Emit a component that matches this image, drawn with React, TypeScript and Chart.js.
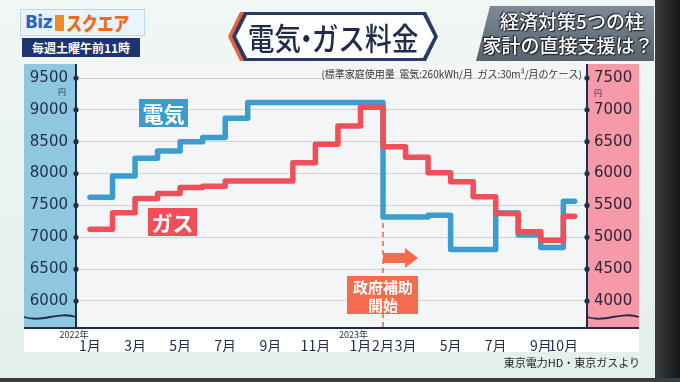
import React, { useEffect, useRef } from 'react';
import { Chart, registerables } from 'chart.js';

Chart.register(...registerables);

// ---- data (Jan 2022 .. Oct 2023, monthly, yen) ----
const months = [
  '2022-01', '2022-02', '2022-03', '2022-04', '2022-05', '2022-06', '2022-07', '2022-08', '2022-09', '2022-10', '2022-11', '2022-12',
  '2023-01', '2023-02', '2023-03', '2023-04', '2023-05', '2023-06', '2023-07', '2023-08', '2023-09', '2023-10',
];
const electricity = [7630, 7960, 8240, 8355, 8500, 8565, 8870, 9115, 9115, 9115, 9115, 9115, 9115, 7320, 7320, 7346, 6810, 6810, 7380, 7035, 6840, 7565];
const gas = [5126, 5386, 5609, 5688, 5783, 5803, 5882, 5882, 5882, 6170, 6460, 6748, 7043, 6422, 6255, 6013, 5871, 5635, 5373, 5087, 4953, 5331];

const leftTicks = [6000, 6500, 7000, 7500, 8000, 8500, 9000, 9500];
const rightTicks = [4000, 4500, 5000, 5500, 6000, 6500, 7000, 7500];
const xTickMonths = [0, 2, 4, 6, 8, 10, 12, 13, 14, 16, 18, 20, 21];
const xTickLabels = ['1月', '3月', '5月', '7月', '9月', '11月', '1月', '2月', '3月', '5月', '7月', '9月', '10月'];
const yearMonths = [0, 12];
const yearTexts = ['2022年', '2023年'];
const subsidyMonth = 13;

const BLUE = '#3b9dcd';
const RED = '#f04e59';
const NAVY = '#1f2d4c';
const JP = '"Noto Sans CJK JP", "Noto Sans", sans-serif';

function toSeries(values: number[]) {
  const pts = values.map((v, i) => ({ x: i, y: v }));
  pts.push({ x: values.length - 1 + 0.5, y: values[values.length - 1] });
  return pts;
}

function wave(ctx: CanvasRenderingContext2D, left: number, right: number, y: number) {
  const w = right - left;
  ctx.beginPath();
  ctx.moveTo(left, y);
  ctx.bezierCurveTo(left + w / 3, y + 6, left + (2 * w) / 3, y - 6, right, y);
  ctx.stroke();
}

const decor = {
  id: 'decor',
  beforeDraw(chart: any) {
    const { ctx, chartArea: a, scales } = chart;
    const yl = scales.yL;
    const yr = scales.yR;
    ctx.save();
    ctx.fillStyle = '#f4f5f6';
    ctx.fillRect(a.left, a.top, a.right - a.left, a.bottom - a.top);
    ctx.fillStyle = '#8fc6e0';
    ctx.fillRect(yl.left, a.top, yl.right - yl.left, a.bottom - a.top);
    ctx.fillStyle = '#f59aa6';
    ctx.fillRect(yr.left, a.top, yr.right - yr.left, a.bottom - a.top);
    ctx.fillStyle = '#ffffff';
    ctx.fillRect(yl.left, a.bottom, yr.right - yl.left, scales.x.bottom - a.bottom);
    ctx.restore();
  },
  afterDatasetsDraw(chart: any) {
    const { ctx, chartArea: a, scales } = chart;
    const yl = scales.yL;
    const xs = scales.x.getPixelForValue(subsidyMonth);
    ctx.save();
    // dashed marker
    const yTop = yl.getPixelForValue(electricity[subsidyMonth]) + 6;
    ctx.strokeStyle = '#e0694f';
    ctx.lineWidth = 1.5;
    ctx.setLineDash([5, 4]);
    ctx.beginPath();
    ctx.moveTo(xs, yTop);
    ctx.lineTo(xs, a.bottom);
    ctx.stroke();
    ctx.setLineDash([]);
    // arrow
    ctx.fillStyle = '#f46c4d';
    const yA = 258;
    ctx.fillRect(xs, yA - 5, 23, 10);
    ctx.beginPath();
    ctx.moveTo(xs + 22, yA - 10);
    ctx.lineTo(xs + 35, yA);
    ctx.lineTo(xs + 22, yA + 10);
    ctx.closePath();
    ctx.fill();
    // box
    ctx.fillStyle = '#f46b4e';
    ctx.fillRect(xs - 36, 276, 71, 38);
    ctx.fillStyle = '#ffffff';
    ctx.font = `bold 15px ${JP}`;
    ctx.textAlign = 'center';
    ctx.textBaseline = 'middle';
    ctx.fillText('政府補助', xs, 287);
    ctx.fillText('開始', xs, 305);
    // series labels
    ctx.fillStyle = BLUE;
    ctx.fillRect(139, 99, 49, 28);
    ctx.fillStyle = RED;
    ctx.fillRect(148, 208, 49, 28);
    ctx.fillStyle = '#ffffff';
    ctx.font = `bold 21px ${JP}`;
    ctx.fillText('電気', 163.5, 114);
    ctx.fillText('ガス', 172.5, 223);
    ctx.restore();
  },
  afterDraw(chart: any) {
    const { ctx, chartArea: a, scales } = chart;
    const yl = scales.yL;
    const yr = scales.yR;
    ctx.save();
    ctx.strokeStyle = NAVY;
    ctx.lineWidth = 2;
    ctx.beginPath();
    ctx.moveTo(a.left, a.top);
    ctx.lineTo(a.left, a.bottom);
    ctx.moveTo(a.right, a.top);
    ctx.lineTo(a.right, a.bottom);
    ctx.moveTo(yl.left, a.bottom);
    ctx.lineTo(yr.right, a.bottom);
    ctx.stroke();
    ctx.fillStyle = NAVY;
    leftTicks.forEach((v) => {
      ctx.beginPath();
      ctx.arc(a.left, yl.getPixelForValue(v), 2.6, 0, Math.PI * 2);
      ctx.fill();
    });
    rightTicks.forEach((v) => {
      ctx.beginPath();
      ctx.arc(a.right, yr.getPixelForValue(v), 2.6, 0, Math.PI * 2);
      ctx.fill();
    });
    ctx.lineWidth = 1.8;
    wave(ctx, yl.left, yl.right, a.bottom - 11);
    wave(ctx, yr.left, yr.right, a.bottom - 11);
    // 円 units
    ctx.font = `8px ${JP}`;
    ctx.textAlign = 'center';
    ctx.textBaseline = 'middle';
    ctx.fillText('円', 62, yl.getPixelForValue(leftTicks[leftTicks.length - 1]) + 14);
    ctx.fillText('円', 598, yr.getPixelForValue(rightTicks[rightTicks.length - 1]) + 15);
    // year labels
    ctx.fillStyle = '#333333';
    ctx.font = `9px ${JP}`;
    const offs = [-16, -7];
    yearMonths.forEach((m, i) => {
      ctx.fillText(yearTexts[i], scales.x.getPixelForValue(m) + offs[i], a.bottom + 7);
    });
    // note
    ctx.fillStyle = '#333333';
    ctx.font = `10px ${JP}`;
    ctx.textAlign = 'right';
    ctx.fillText('(標準家庭使用量  電気:260kWh/月  ガス:30m³/月のケース)', a.right - 5, 74);
    ctx.restore();
  },
};

export default function App() {
  const ref = useRef<HTMLCanvasElement>(null);
  useEffect(() => {
    const canvas = ref.current;
    if (!canvas) return;
    const chart = new Chart(canvas, {
      type: 'line',
      data: {
        datasets: [
          {
            label: 'ガス',
            data: toSeries(gas),
            yAxisID: 'yR',
            xAxisID: 'x',
            borderColor: RED,
            borderWidth: 5.5,
            stepped: 'before',
            pointRadius: 0,
            fill: false,
            borderCapStyle: 'round',
            borderJoinStyle: 'round',
            order: 0,
          },
          {
            label: '電気',
            data: toSeries(electricity),
            yAxisID: 'yL',
            xAxisID: 'x',
            borderColor: BLUE,
            borderWidth: 5.5,
            stepped: 'before',
            pointRadius: 0,
            fill: false,
            borderCapStyle: 'round',
            borderJoinStyle: 'round',
            order: 1,
          },
        ],
      } as any,
      options: {
        responsive: false,
        animation: false,
        devicePixelRatio: 1,
        layout: { padding: { left: 24, right: 41, top: 64, bottom: 30 } },
        plugins: { legend: { display: false }, tooltip: { enabled: false } },
        scales: {
          x: {
            type: 'linear',
            min: -0.62,
            max: 22.05,
            afterBuildTicks: (s: any) => {
              s.ticks = xTickMonths.map((v) => ({ value: v }));
            },
            afterFit: (s: any) => {
              s.height = 24;
            },
            grid: { display: false, drawTicks: false },
            border: { display: false },
            ticks: {
              autoSkip: false,
              maxRotation: 0,
              padding: 9,
              color: NAVY,
              font: { family: JP, size: 14 },
              callback: (v: any) => {
                const i = xTickMonths.indexOf(Number(v));
                return i >= 0 ? xTickLabels[i] : '';
              },
            },
          },
          yL: {
            type: 'linear',
            position: 'left',
            min: 5576,
            max: 9720,
            afterBuildTicks: (s: any) => {
              s.ticks = leftTicks.map((v) => ({ value: v }));
            },
            afterFit: (s: any) => {
              s.width = 52;
            },
            grid: { color: '#d0d5da', lineWidth: 1, drawTicks: false },
            border: { display: false },
            ticks: { padding: 8, color: '#1f2f4f', font: { family: 'DejaVu Sans', size: 15 }, callback: (v: any) => String(v) },
          },
          yR: {
            type: 'linear',
            position: 'right',
            min: 3576,
            max: 7720,
            afterBuildTicks: (s: any) => {
              s.ticks = rightTicks.map((v) => ({ value: v }));
            },
            afterFit: (s: any) => {
              s.width = 52;
            },
            grid: { display: false, drawTicks: false },
            border: { display: false },
            ticks: { padding: 7, color: '#2e2639', font: { family: 'DejaVu Sans', size: 15 }, callback: (v: any) => String(v) },
          },
        },
      } as any,
      plugins: [decor],
    });
    return () => chart.destroy();
  }, []);

  return (
    <div
      style={{
        position: 'fixed',
        left: 0,
        top: 0,
        width: 680,
        height: 382,
        overflow: 'hidden',
        background: 'linear-gradient(180deg, #f1f7f5 0%, #e3efeb 100%)',
        fontFamily: JP,
      }}
    >
      <canvas ref={ref} width={680} height={382} style={{ position: 'absolute', left: 0, top: 0, width: 680, height: 382 }} />

      {/* logo */}
      <div
        style={{
          position: 'absolute', left: 20, top: 9, width: 125, height: 27, background: '#eaf4fb',
          border: '1px solid #bcd7ea', boxSizing: 'border-box', display: 'flex', alignItems: 'center', justifyContent: 'center',
          fontWeight: 900, fontSize: 19, lineHeight: '27px', letterSpacing: -0.5,
        }}
      >
        <span style={{ color: '#2766c8', fontFamily: '"DejaVu Sans", sans-serif', fontSize: 17 }}>Biz</span>
        <span style={{ display: 'inline-block', width: 9, height: 16, background: '#f08a22', margin: '0 2px 0 3px' }} />
        <span style={{ color: '#ee6a1c', display: 'inline-block', transform: 'scaleX(0.85)', transformOrigin: 'left center' }}>スクエア</span>
      </div>
      <div
        style={{
          position: 'absolute', left: 22, top: 38, width: 118, height: 19, background: '#1e3470', color: '#fff',
          fontSize: 12, fontWeight: 700, lineHeight: '19px', textAlign: 'center',
        }}
      >
        毎週土曜午前11時
      </div>

      {/* title */}
      <div style={{ position: 'absolute', left: 228, top: 12, width: 210, height: 49 }}>
        <div style={{ position: 'absolute', left: 0, top: 0, width: 40, height: 49, background: '#e8633f', clipPath: 'polygon(12px 0, 100% 0, 100% 100%, 12px 100%, 0 50%)' }} />
        <div style={{ position: 'absolute', left: 4, top: 0, right: 0, bottom: 0, background: '#2a3a66', clipPath: 'polygon(12px 0, calc(100% - 12px) 0, 100% 50%, calc(100% - 12px) 100%, 12px 100%, 0 50%)' }} />
        <div style={{ position: 'absolute', left: 8, top: 3, right: 4, bottom: 3, background: '#ffffff', clipPath: 'polygon(11px 0, calc(100% - 11px) 0, 100% 50%, calc(100% - 11px) 100%, 11px 100%, 0 50%)' }} />
        <div
          style={{
            position: 'absolute', left: 0, top: 0, width: 210, height: 49, lineHeight: '49px', textAlign: 'center',
            color: '#1f2b48', fontSize: 31, fontWeight: 500, transform: 'scaleX(0.86)', whiteSpace: 'nowrap',
          }}
        >
          電気<span style={{ display: 'inline-block', margin: '0 -0.3em' }}>・</span>ガス料金
        </div>
      </div>

      {/* right headline */}
      <div
        style={{
          position: 'absolute', left: 476, top: 6, width: 178, height: 55,
          background: 'linear-gradient(180deg, #7e8a95 0%, #56626d 100%)', clipPath: 'polygon(14px 0, 100% 0, 100% 100%, 0 100%)',
          color: '#fff', textAlign: 'center', fontSize: 19, fontWeight: 500, lineHeight: '24px', paddingTop: 3, boxSizing: 'border-box',
          textShadow: '0 0 2px #1d2228, 1px 1px 1px #1d2228, -1px -1px 1px #1d2228',
        }}
      >
        <div style={{ paddingLeft: 14 }}>経済対策5つの柱</div>
        <div style={{ paddingLeft: 6 }}>家計の直接支援は？</div>
      </div>

      {/* source */}
      <div style={{ position: 'absolute', right: 40, top: 354, fontSize: 11, color: '#222', lineHeight: '16px' }}>
        東京電力HD・東京ガスより
      </div>

      {/* bezel */}
      <div style={{ position: 'absolute', left: 655, top: 0, width: 25, height: 382, background: 'linear-gradient(90deg, #3a3d40, #151617)' }} />
      <div style={{ position: 'absolute', left: 0, top: 378, width: 680, height: 4, background: '#3a3d40' }} />
    </div>
  );
}
